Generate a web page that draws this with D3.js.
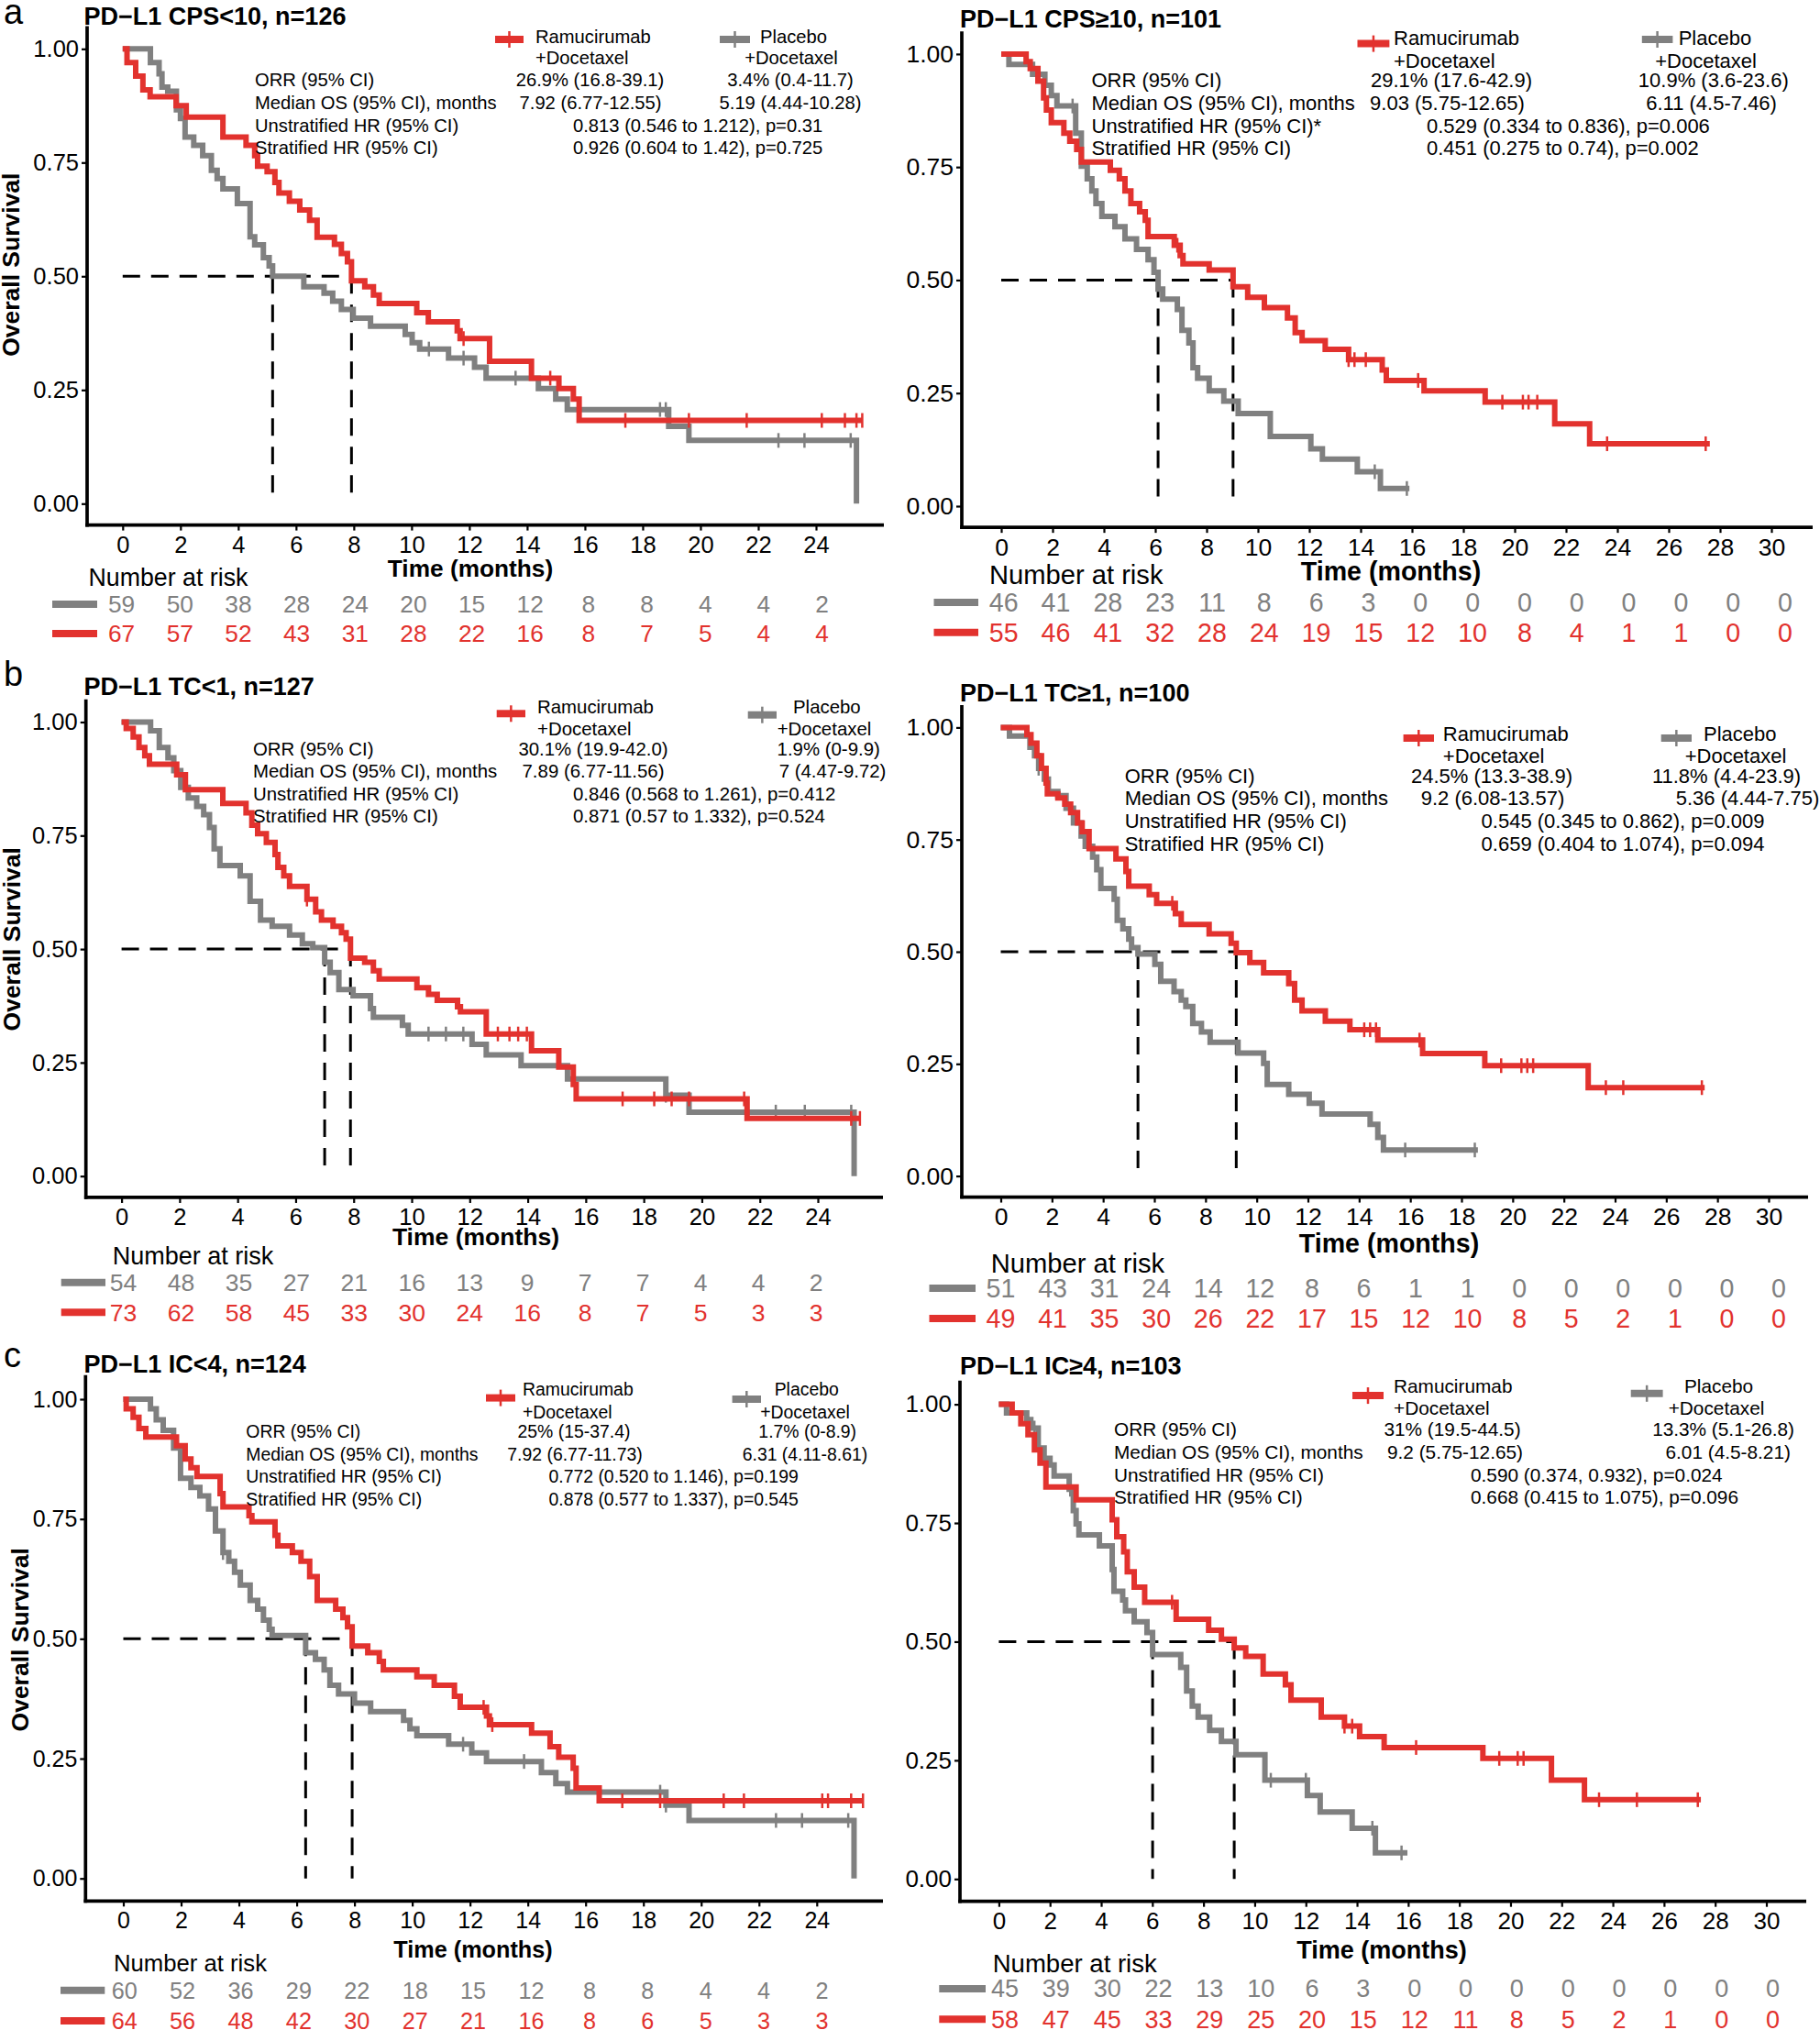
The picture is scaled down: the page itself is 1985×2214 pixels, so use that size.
<!DOCTYPE html>
<html>
<head>
<meta charset="utf-8">
<script src="https://cdn.jsdelivr.net/npm/d3@7"></script>
<style>
body{margin:0;background:#fff}
text{font-family:"Liberation Sans",Arial,sans-serif}
</style>
</head>
<body>
<div id="chart"></div>
<script>
// ---------- datos ----------
var statLabels=["ORR (95% CI)","Median OS (95% CI), months","Unstratified HR (95% CI)","Stratified HR (95% CI)"]

// a) CPS<10
var cpsLowRam=[[0,1],[0.15,0.97],[0.45,0.94],[0.7,0.91],[0.95,0.895],[1.85,0.875],[2.2,0.85],[3.47,0.806],[4.27,0.788],[4.57,0.765],[4.67,0.742],[5.0,0.73],[5.27,0.706],[5.41,0.683],[5.77,0.665],[6.13,0.646],[6.47,0.623],[6.73,0.586],[7.33,0.57],[7.57,0.55],[7.78,0.532],[7.92,0.49],[8.38,0.477],[8.68,0.459],[8.88,0.44],[10.18,0.42],[10.58,0.40],[11.58,0.38],[11.68,0.363],[12.7,0.313],[14.15,0.276],[15.1,0.253],[15.6,0.23],[15.8,0.183],[25.6,0.183]]
var cpsLowPbo=[[0,1],[0.96,0.97],[1.26,0.945],[1.36,0.916],[1.56,0.907],[1.86,0.866],[2.0,0.847],[2.16,0.806],[2.46,0.788],[2.77,0.765],[3.07,0.733],[3.27,0.715],[3.47,0.692],[3.97,0.66],[4.41,0.587],[4.57,0.569],[4.87,0.541],[5.07,0.523],[5.19,0.50],[6.27,0.477],[6.97,0.463],[7.27,0.445],[7.57,0.427],[7.98,0.408],[8.58,0.39],[9.78,0.372],[10.02,0.354],[10.28,0.34],[11.28,0.32],[12.18,0.30],[12.58,0.276],[14.39,0.253],[14.99,0.23],[15.39,0.207],[18.9,0.17],[19.6,0.139],[25.4,0.139],[25.4,0]]
var cpsLowRamCens=[11.8,14.8,17.4,19.6,21.6,24.2,25.0,25.4,25.6]
var cpsLowPboCens=[10.6,11.8,13.6,18.6,18.8,22.7,23.6,25.2]
var cpsLowMedians=[5.19,7.92]
var cpsLowRiskPbo=[59,50,38,28,24,20,15,12,8,8,4,4,2]
var cpsLowRiskRam=[67,57,52,43,31,28,22,16,8,7,5,4,4]
var cpsLowStats=["26.9% (16.8-39.1)","3.4% (0.4-11.7)","7.92 (6.77-12.55)","5.19 (4.44-10.28)","0.813 (0.546 to 1.212), p=0.31","0.926 (0.604 to 1.42), p=0.725"]

// a) CPS>=10
var cpsHighRam=[[0,1],[0.97,0.983],[1.13,0.968],[1.43,0.94],[1.65,0.903],[1.76,0.876],[1.95,0.848],[2.44,0.825],[2.67,0.807],[2.94,0.789],[3.12,0.761],[4.25,0.743],[4.6,0.724],[4.82,0.697],[5.05,0.669],[5.39,0.651],[5.61,0.632],[5.72,0.596],[6.74,0.577],[6.97,0.554],[7.08,0.536],[8.1,0.522],[9.03,0.485],[9.6,0.462],[10.25,0.439],[11.15,0.416],[11.45,0.384],[11.72,0.366],[12.62,0.347],[13.53,0.324],[14.84,0.301],[15.0,0.278],[16.47,0.255],[18.85,0.23],[21.56,0.182],[22.92,0.138],[27.6,0.138]]
var cpsHighPbo=[[0,1],[0.3,0.977],[1.22,0.955],[1.7,0.931],[1.95,0.908],[2.17,0.885],[2.9,0.825],[3.12,0.752],[3.35,0.724],[3.53,0.697],[3.69,0.669],[3.92,0.641],[4.43,0.618],[4.82,0.591],[5.27,0.568],[5.72,0.545],[5.95,0.517],[6.11,0.48],[6.29,0.458],[6.86,0.435],[7.04,0.389],[7.31,0.361],[7.47,0.306],[7.65,0.283],[8.1,0.255],[8.67,0.232],[9.23,0.205],[10.48,0.154],[12.06,0.127],[12.51,0.104],[13.87,0.076],[14.77,0.039],[15.9,0.039]]
var cpsHighRamCens=[6.86,13.53,13.76,14.2,16.24,19.52,20.32,20.54,20.88,23.6,27.44]
var cpsHighPboCens=[1.43,2.78,14.55,15.8]
var cpsHighMedians=[6.11,9.03]
var cpsHighRiskPbo=[46,41,28,23,11,8,6,3,0,0,0,0,0,0,0,0]
var cpsHighRiskRam=[55,46,41,32,28,24,19,15,12,10,8,4,1,1,0,0]
var cpsHighStats=["29.1% (17.6-42.9)","10.9% (3.6-23.6)","9.03 (5.75-12.65)","6.11 (4.5-7.46)","0.529 (0.334 to 0.836), p=0.006","0.451 (0.275 to 0.74), p=0.002"]

// b) TC<1
var tcLowRam=[[0,1],[0.16,0.986],[0.4,0.967],[0.6,0.944],[0.8,0.926],[0.96,0.907],[1.9,0.884],[2.2,0.851],[3.49,0.821],[4.29,0.80],[4.49,0.773],[4.69,0.754],[4.99,0.735],[5.29,0.708],[5.39,0.68],[5.59,0.661],[5.79,0.638],[6.39,0.61],[6.69,0.582],[6.89,0.564],[7.29,0.55],[7.58,0.536],[7.74,0.522],[7.89,0.48],[8.38,0.471],[8.68,0.452],[8.88,0.434],[10.18,0.415],[10.58,0.40],[10.88,0.387],[11.58,0.373],[11.68,0.362],[12.57,0.313],[14.13,0.276],[15.07,0.24],[15.57,0.202],[15.67,0.17],[21.56,0.127],[25.45,0.127]]
var tcLowPbo=[[0,1],[1.0,0.981],[1.3,0.944],[1.6,0.921],[1.8,0.893],[2.04,0.856],[2.3,0.833],[2.59,0.814],[2.83,0.796],[3.03,0.768],[3.19,0.721],[3.39,0.684],[4.09,0.661],[4.43,0.605],[4.79,0.564],[5.19,0.55],[5.79,0.531],[6.23,0.512],[6.59,0.503],[7.0,0.471],[7.19,0.448],[7.49,0.411],[7.98,0.397],[8.58,0.369],[8.68,0.35],[9.68,0.332],[9.88,0.313],[12.08,0.29],[12.57,0.267],[13.77,0.243],[15.37,0.214],[18.76,0.178],[19.56,0.141],[25.25,0.141],[25.25,0]]
var tcLowRamCens=[6.39,12.97,13.37,13.67,13.97,17.27,18.36,18.96,19.56,21.46,25.15,25.45]
var tcLowPboCens=[10.58,11.18,11.78,18.76,22.55,23.55,25.15]
var tcLowMedians=[7.0,7.89]
var tcLowRiskPbo=[54,48,35,27,21,16,13,9,7,7,4,4,2]
var tcLowRiskRam=[73,62,58,45,33,30,24,16,8,7,5,3,3]
var tcLowStats=["30.1% (19.9-42.0)","1.9% (0-9.9)","7.89 (6.77-11.56)","7 (4.47-9.72)","0.846 (0.568 to 1.261), p=0.412","0.871 (0.57 to 1.332), p=0.524"]

// b) TC>=1
var tcHighRam=[[0,1],[1.02,0.984],[1.18,0.965],[1.41,0.937],[1.59,0.909],[1.77,0.876],[1.82,0.852],[2.23,0.843],[2.5,0.829],[2.73,0.81],[3.0,0.787],[3.18,0.768],[3.45,0.73],[4.5,0.707],[4.89,0.679],[5.0,0.646],[5.8,0.627],[6.09,0.608],[6.82,0.585],[7.05,0.561],[8.14,0.54],[9.0,0.519],[9.2,0.498],[9.73,0.476],[10.27,0.453],[11.25,0.429],[11.48,0.392],[11.77,0.368],[12.68,0.345],[13.64,0.326],[14.73,0.303],[16.48,0.273],[18.91,0.246],[22.95,0.197],[27.5,0.197]]
var tcHighPbo=[[0,1],[0.34,0.981],[1.14,0.956],[1.32,0.937],[1.48,0.909],[1.7,0.885],[1.86,0.857],[2.23,0.848],[2.55,0.82],[2.84,0.787],[3.14,0.758],[3.3,0.735],[3.59,0.711],[3.75,0.683],[3.91,0.641],[4.43,0.617],[4.55,0.57],[4.77,0.551],[5.0,0.528],[5.11,0.509],[5.36,0.495],[6.02,0.472],[6.25,0.434],[6.77,0.411],[7.05,0.392],[7.23,0.378],[7.5,0.34],[7.84,0.321],[8.18,0.298],[9.27,0.274],[10.27,0.251],[10.41,0.204],[11.25,0.182],[12.05,0.162],[12.55,0.138],[14.43,0.115],[14.73,0.086],[14.95,0.058],[18.64,0.058]]
var tcHighRamCens=[6.7,14.2,14.43,14.66,16.36,19.55,20.34,20.57,20.8,23.64,24.32,27.39]
var tcHighPboCens=[1.48,15.8,18.52]
var tcHighMedians=[5.36,9.2]
var tcHighRiskPbo=[51,43,31,24,14,12,8,6,1,1,0,0,0,0,0,0]
var tcHighRiskRam=[49,41,35,30,26,22,17,15,12,10,8,5,2,1,0,0]
var tcHighStats=["24.5% (13.3-38.9)","11.8% (4.4-23.9)","9.2 (6.08-13.57)","5.36 (4.44-7.75)","0.545 (0.345 to 0.862), p=0.009","0.659 (0.404 to 1.074), p=0.094"]

// c) IC<4
var icLowRam=[[0,1],[0.1,0.98],[0.34,0.962],[0.54,0.939],[0.78,0.921],[1.84,0.903],[2.14,0.875],[2.34,0.857],[2.55,0.839],[3.35,0.803],[3.45,0.775],[4.35,0.757],[4.45,0.744],[5.25,0.716],[5.35,0.694],[5.85,0.68],[6.15,0.662],[6.45,0.63],[6.71,0.58],[7.35,0.562],[7.6,0.544],[7.76,0.525],[7.92,0.485],[8.46,0.471],[8.86,0.453],[9.0,0.435],[10.16,0.421],[10.76,0.403],[11.46,0.38],[11.66,0.357],[12.57,0.339],[12.67,0.321],[14.13,0.303],[14.77,0.275],[15.07,0.253],[15.57,0.23],[15.67,0.189],[16.47,0.162],[25.6,0.162]]
var icLowPbo=[[0,1],[0.94,0.98],[1.14,0.957],[1.38,0.935],[1.74,0.898],[1.98,0.835],[2.34,0.816],[2.65,0.798],[2.95,0.771],[3.19,0.725],[3.45,0.68],[3.65,0.662],[3.85,0.639],[4.05,0.612],[4.39,0.58],[4.65,0.562],[4.85,0.539],[5.05,0.52],[5.15,0.507],[6.31,0.471],[6.65,0.457],[6.95,0.435],[7.15,0.403],[7.45,0.385],[8.0,0.366],[8.56,0.348],[9.7,0.33],[9.92,0.312],[10.16,0.298],[11.26,0.28],[12.06,0.262],[12.57,0.244],[14.47,0.221],[14.97,0.198],[15.37,0.18],[18.78,0.153],[19.58,0.121],[25.29,0.121],[25.29,0]]
var icLowRamCens=[12.47,12.77,17.27,18.58,20.78,21.48,24.19,24.39,25.19,25.6]
var icLowPboCens=[3.45,11.76,13.87,18.58,18.78,22.59,23.49,25.09]
var icLowMedians=[6.31,7.92]
var icLowRiskPbo=[60,52,36,29,22,18,15,12,8,8,4,4,2]
var icLowRiskRam=[64,56,48,42,30,27,21,16,8,6,5,3,3]
var icLowStats=["25% (15-37.4)","1.7% (0-8.9)","7.92 (6.77-11.73)","6.31 (4.11-8.61)","0.772 (0.520 to 1.146), p=0.199","0.878 (0.577 to 1.337), p=0.545"]

// c) IC>=4
var icHighRam=[[0,1],[0.52,0.982],[0.86,0.959],[1.14,0.936],[1.39,0.904],[1.61,0.876],[1.84,0.826],[3.02,0.799],[4.43,0.757],[4.61,0.721],[4.88,0.689],[5.02,0.647],[5.29,0.615],[5.7,0.583],[6.93,0.547],[8.2,0.524],[8.7,0.505],[9.2,0.487],[9.65,0.469],[10.33,0.432],[11.2,0.409],[11.42,0.377],[12.6,0.341],[13.51,0.322],[14.1,0.3],[15.06,0.277],[18.92,0.254],[21.6,0.208],[22.89,0.167],[27.44,0.167]]
var icHighPbo=[[0,1],[0.3,0.982],[1.09,0.968],[1.25,0.95],[1.54,0.908],[1.77,0.886],[2.0,0.872],[2.16,0.849],[2.75,0.821],[2.91,0.776],[3.02,0.748],[3.13,0.725],[3.93,0.702],[4.43,0.652],[4.5,0.606],[4.84,0.588],[4.95,0.565],[5.29,0.542],[5.79,0.519],[6.01,0.473],[7.11,0.446],[7.34,0.396],[7.56,0.364],[7.79,0.341],[8.24,0.313],[8.7,0.29],[9.27,0.262],[10.4,0.208],[12.06,0.176],[12.56,0.141],[13.81,0.107],[14.72,0.055],[15.97,0.055]]
var icHighRamCens=[6.77,13.51,13.81,16.31,19.56,20.28,20.51,23.46,24.94,27.32]
var icHighPboCens=[1.39,2.79,10.63,12.0,14.6,15.74]
var icHighMedians=[6.01,9.2]
var icHighRiskPbo=[45,39,30,22,13,10,6,3,0,0,0,0,0,0,0,0]
var icHighRiskRam=[58,47,45,33,29,25,20,15,12,11,8,5,2,1,0,0]
var icHighStats=["31% (19.5-44.5)","13.3% (5.1-26.8)","9.2 (5.75-12.65)","6.01 (4.5-8.21)","0.590 (0.374, 0.932), p=0.024","0.668 (0.415 to 1.075), p=0.096"]

// ---------- colores ----------
var rojo="#E2322E", gris="#808080"

// ---------- paneles (posiciones en px; k = escala de letra, kt = escala de ticks) ----------
var paneles=[
 {letra:"a",letraY:26,titulo:"PD\u2212L1 CPS<10, n=126",ram:cpsLowRam,pbo:cpsLowPbo,ramC:cpsLowRamCens,pboC:cpsLowPboCens,med:cpsLowMedians,riskP:cpsLowRiskPbo,riskR:cpsLowRiskRam,stats:cpsLowStats,star:false,k:1.01,kt:1,
  tMax:24,x0:133.8,xT:890,y0:549.3,y1:53.3,axX:95,axEnd:964,titX:91.5,titY:17.2,osX:12,osY:288.7,
  timeX:513,timeY:620,narX:96.5,narY:630,rowP:659,rowR:691,segR:[57,106],rk0:132.6,rkT:896.5,
  c1:278,rows:[87,112.4,136.9,161.3],c2:[643.5,644],c3:[862,862],hr:625,
  lR:[540,571,43],ramT:[584,39.9],docR:[584,63.4],lP:[785,818,43],plaT:[829,39.9],docP:[863,63.4]},
 {titulo:"PD\u2212L1 CPS\u226510, n=101",ram:cpsHighRam,pbo:cpsHighPbo,ramC:cpsHighRamCens,pboC:cpsHighPboCens,med:cpsHighMedians,riskP:cpsHighRiskPbo,riskR:cpsHighRiskRam,stats:cpsHighStats,star:true,k:1.1,kt:1.04,
  tMax:30,x0:1092,xT:1932,y0:552,y1:58.9,axX:1049,axEnd:1977,titX:1047,titY:20.4,
  timeX:1517,timeY:622.5,narX:1079,narY:626.8,rowP:657.1,rowR:689.8,segR:[1018.5,1067],rk0:1094.7,rkT:1947,
  c1:1190.5,rows:[87.5,112.4,136.9,161.3],c2:[1583,1578.5],c3:[1868.8,1866.6],hr:1556,
  lR:[1480.5,1515.4,47.6],ramT:[1520,41.7],docR:[1520,66.2],lP:[1790.8,1824.4,43],plaT:[1830.7,41.7],docP:[1860.6,66.2]},
 {letra:"b",letraY:748,titulo:"PD\u2212L1 TC<1, n=127",ram:tcLowRam,pbo:tcLowPbo,ramC:tcLowRamCens,pboC:tcLowPboCens,med:tcLowMedians,riskP:tcLowRiskPbo,riskR:tcLowRiskRam,stats:tcLowStats,star:false,k:1.02,kt:1,
  tMax:24,x0:132.6,xT:892,y0:1282.7,y1:787.5,axX:93.7,axEnd:963,titX:91.5,titY:748.4,osX:12.6,osY:1024.3,
  timeX:519,timeY:1349,narX:122.7,narY:1370,rowP:1398.7,rowR:1431.3,segR:[66.7,115],rk0:134.5,rkT:890,
  c1:276,rows:[816.4,841.3,865.6,890],c2:[647,647],c3:[903.7,908],hr:625,
  lR:[541.7,573,778.3],ramT:[586,770.5],docR:[586,794.4],lP:[815.7,847,779.7],plaT:[865,770.5],docP:[899,794.4]},
 {titulo:"PD\u2212L1 TC\u22651, n=100",ram:tcHighRam,pbo:tcHighPbo,ramC:tcHighRamCens,pboC:tcHighPboCens,med:tcHighMedians,riskP:tcHighRiskPbo,riskR:tcHighRiskRam,stats:tcHighStats,star:false,k:1.1,kt:1.04,
  tMax:30,x0:1091.5,xT:1929,y0:1282.6,y1:793.4,axX:1049,axEnd:1972,titX:1047,titY:755.3,
  timeX:1515,timeY:1356,narX:1080.7,narY:1377.4,rowP:1405,rowR:1438,segR:[1013.5,1064],rk0:1091.5,rkT:1940,
  c1:1226.7,rows:[846.3,870.7,895.5,919.9],c2:[1627,1628],c3:[1883,1906],hr:1615.6,
  lR:[1530.6,1564,805],ramT:[1573.8,800.3],docR:[1573.8,824.3],lP:[1811.7,1845,805],plaT:[1858,800.3],docP:[1893,824.3]},
 {letra:"c",letraY:1491,titulo:"PD\u2212L1 IC<4, n=124",ram:icLowRam,pbo:icLowPbo,ramC:icLowRamCens,pboC:icLowPboCens,med:icLowMedians,riskP:icLowRiskPbo,riskR:icLowRiskRam,stats:icLowStats,star:false,k:0.97,kt:0.98,
  tMax:24,x0:134.5,xT:890.8,y0:2048.7,y1:1526,axX:93.3,axEnd:963,titX:91.5,titY:1488,osX:22,osY:1788.3,
  timeX:516,timeY:2125.7,narX:124,narY:2141.3,rowP:2170.7,rowR:2204,segR:[66,114.3],rk0:135.7,rkT:896.5,
  c1:268.3,rows:[1561.2,1585.9,1610.6,1635.3],c2:[626,627],c3:[880.7,878],hr:598.5,
  lR:[530,562,1524.6],ramT:[570,1515.1],docR:[570,1539.8],lP:[798.6,830,1526],plaT:[844.7,1515.1],docP:[878,1539.8]},
 {titulo:"PD\u2212L1 IC\u22654, n=103",ram:icHighRam,pbo:icHighPbo,ramC:icHighRamCens,pboC:icHighPboCens,med:icHighMedians,riskP:icHighRiskPbo,riskR:icHighRiskRam,stats:icHighStats,star:false,k:1.04,kt:1.02,
  tMax:30,x0:1089.4,xT:1926.5,y0:2049.3,y1:1531.6,axX:1047,axEnd:1970,titX:1047,titY:1489.9,
  timeX:1507,timeY:2126.6,narX:1082.7,narY:2141.7,rowP:2169,rowR:2202.3,segR:[1024.3,1075],rk0:1096,rkT:1933.5,
  c1:1215,rows:[1559.1,1583.8,1608.4,1633.1],c2:[1584,1587],c3:[1879.6,1884.7],hr:1604,
  lR:[1475,1509,1522.1],ramT:[1520,1511.7],docR:[1520,1535.4],lP:[1778.7,1813.6,1519.8],plaT:[1837,1511.7],docP:[1872,1535.4]}
]

var svg=d3.select("#chart").append("svg")
	.attr("width",1985)
	.attr("height",2214)
svg.append("rect").attr("width",1985).attr("height",2214).attr("fill","#fff")

//valor de la curva escalonada en el tiempo t
function valorEn(curva,t){
	var v=curva[0][1]
	curva.forEach(function(p){ if(p[0]<=t) v=p[1] })
	return v
}

paneles.forEach(dibujaPanel)

function dibujaPanel(p){
	var g=svg.append("g")
	var k=p.k
	var escalaX=d3.scaleLinear().domain([0,p.tMax]).range([p.x0,p.xT])
	var escalaY=d3.scaleLinear().domain([0,1]).range([p.y0,p.y1])
	var escalaRiesgo=d3.scaleLinear().domain([0,p.tMax]).range([p.rk0,p.rkT])
	var ticksX=d3.range(0,p.tMax+1,2)
	var yEje=escalaY(-0.05)-1.5

	//ejes
	var ejeY=g.append("g")
		.attr("transform","translate("+p.axX+",0)")
		.call(d3.axisLeft(escalaY).tickValues([0,0.25,0.5,0.75,1]).tickFormat(d3.format(".2f")).tickSize(6).tickPadding(3).tickSizeOuter(0))
	var ejeX=g.append("g")
		.attr("transform","translate(0,"+yEje+")")
		.call(d3.axisBottom(escalaX).tickValues(ticksX).tickSize(6).tickPadding(6).tickSizeOuter(0))
	ejeY.select(".domain").remove()
	ejeX.select(".domain").remove()
	g.selectAll(".tick line").attr("stroke","#000").attr("stroke-width",2.2)
	g.selectAll(".tick text").attr("font-size",25.5*p.kt).attr("fill","#000").attr("font-family","'Liberation Sans',Arial,sans-serif")
	g.append("line").attr("x1",p.axX).attr("x2",p.axX).attr("y1",escalaY(1.05)).attr("y2",yEje+1.8)
		.attr("stroke","#000").attr("stroke-width",3.7)
	g.append("line").attr("x1",p.axX-1.8).attr("x2",p.axEnd).attr("y1",yEje).attr("y2",yEje)
		.attr("stroke","#000").attr("stroke-width",3.7)

	//lineas de mediana
	var mMax=d3.max(p.med)
	g.append("line").attr("x1",escalaX(0)).attr("x2",escalaX(mMax)).attr("y1",escalaY(0.5)).attr("y2",escalaY(0.5))
		.attr("stroke","#000").attr("stroke-width",3).attr("stroke-dasharray","19,12")
	g.selectAll("lineaMed").data(p.med).enter().append("line")
		.attr("x1",d=>escalaX(d)).attr("x2",d=>escalaX(d))
		.attr("y1",escalaY(0.5)).attr("y2",escalaY(0))
		.attr("stroke","#000").attr("stroke-width",3).attr("stroke-dasharray","19,12")

	//curvas KM
	var linea=d3.line().x(d=>escalaX(d[0])).y(d=>escalaY(d[1])).curve(d3.curveStepAfter)
	var series=[{c:p.pbo,cens:p.pboC,col:gris},{c:p.ram,cens:p.ramC,col:rojo}]
	series.forEach(function(s){
		g.append("path").attr("d",linea(s.c)).attr("fill","none").attr("stroke",s.col)
			.attr("stroke-width",6).attr("stroke-linejoin","miter")
		g.selectAll("cens").data(s.cens).enter().append("line")
			.attr("x1",d=>escalaX(d)).attr("x2",d=>escalaX(d))
			.attr("y1",d=>escalaY(valorEn(s.c,d))-8).attr("y2",d=>escalaY(valorEn(s.c,d))+8)
			.attr("stroke",s.col).attr("stroke-width",2.5)
	})

	//titulos
	if(p.letra){
		svg.append("text").attr("x",4).attr("y",p.letraY).attr("font-size",38).text(p.letra)
		svg.append("text").attr("transform","translate("+p.osX+","+p.osY+") rotate(-90)")
			.attr("text-anchor","middle").attr("dy","0.35em").attr("font-size",26.5).attr("font-weight","bold").text("Overall Survival")
	}
	g.append("text").attr("x",p.titX).attr("y",p.titY).attr("dy","0.35em").attr("font-size",27).attr("font-weight","bold").text(p.titulo)
	g.append("text").attr("x",p.timeX).attr("y",p.timeY).attr("dy","0.35em").attr("text-anchor","middle")
		.attr("font-size",26*k).attr("font-weight","bold").text("Time (months)")

	//leyenda
	function leyenda(seg,col){
		g.append("line").attr("x1",seg[0]).attr("x2",seg[1]).attr("y1",seg[2]).attr("y2",seg[2]).attr("stroke",col).attr("stroke-width",8)
		g.append("line").attr("x1",(seg[0]+seg[1])/2).attr("x2",(seg[0]+seg[1])/2).attr("y1",seg[2]-9).attr("y2",seg[2]+9).attr("stroke",col).attr("stroke-width",2.5)
	}
	leyenda(p.lR,rojo)
	leyenda(p.lP,gris)
	function texto(x,y,t,anchor){
		g.append("text").attr("x",x).attr("y",y).attr("dy","0.35em").attr("text-anchor",anchor||"start").attr("font-size",20*k).text(t)
	}
	texto(p.ramT[0],p.ramT[1],"Ramucirumab")
	texto(p.docR[0],p.docR[1],"+Docetaxel")
	texto(p.plaT[0],p.plaT[1],"Placebo")
	texto(p.docP[0],p.docP[1],"+Docetaxel","middle")

	//tabla de estadisticos
	statLabels.forEach(function(l,i){
		texto(p.c1,p.rows[i],(i==2&&p.star)?l+"*":l)
	})
	texto(p.c2[0],p.rows[0],p.stats[0],"middle")
	texto(p.c3[0],p.rows[0],p.stats[1],"middle")
	texto(p.c2[1],p.rows[1],p.stats[2],"middle")
	texto(p.c3[1],p.rows[1],p.stats[3],"middle")
	texto(p.hr,p.rows[2],p.stats[4])
	texto(p.hr,p.rows[3],p.stats[5])

	//numero en riesgo
	g.append("text").attr("x",p.narX).attr("y",p.narY).attr("dy","0.35em").attr("font-size",26.5*k).text("Number at risk")
	g.append("line").attr("x1",p.segR[0]).attr("x2",p.segR[1]).attr("y1",p.rowP).attr("y2",p.rowP).attr("stroke",gris).attr("stroke-width",8)
	g.append("line").attr("x1",p.segR[0]).attr("x2",p.segR[1]).attr("y1",p.rowR).attr("y2",p.rowR).attr("stroke",rojo).attr("stroke-width",8)
	g.selectAll("riesgoP").data(p.riskP).enter().append("text")
		.attr("x",(d,i)=>escalaRiesgo(ticksX[i])).attr("y",p.rowP).attr("dy","0.35em").attr("text-anchor","middle")
		.attr("font-size",26*k).attr("fill",gris).text(d=>d)
	g.selectAll("riesgoR").data(p.riskR).enter().append("text")
		.attr("x",(d,i)=>escalaRiesgo(ticksX[i])).attr("y",p.rowR).attr("dy","0.35em").attr("text-anchor","middle")
		.attr("font-size",26*k).attr("fill",rojo).text(d=>d)
}
</script>
</body>
</html>
